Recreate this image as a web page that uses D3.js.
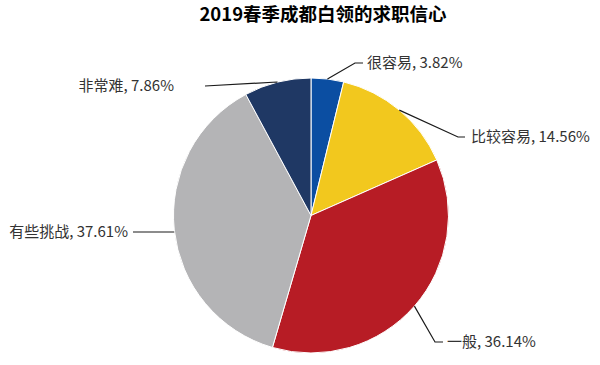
<!DOCTYPE html>
<meta charset="utf-8">
<style>
body { margin: 0; background: #fff; }
text { font-family: "Noto Sans CJK SC", "Noto Sans", sans-serif; }
.title { font-size: 18.5px; font-weight: bold; fill: #000; }
.lbl { font-size: 15px; fill: #333; }
.leader { fill: none; stroke: #1a1a1a; stroke-width: 1.2px; }
</style>
<svg width="600" height="365"></svg>
<script src="https://d3js.org/d3.v7.min.js"></script>
<script>
var categories = ["很容易", "比较容易", "一般", "有些挑战", "非常难"];
var values = [3.82, 14.56, 36.14, 37.61, 7.86];
var colors = ["#0b4ea2", "#f2c81e", "#b71c25", "#b4b4b6", "#1f3864"];

// where each label's leader bends and ends, and gap before the text
var labelLayout = [
  {bx: 355, by: 63, ex: 363, gap: 4, side: "right"},
  {bx: 458, by: 137, ex: 465, gap: 6, side: "right"},
  {bx: 435, by: 342, ex: 443, gap: 4, side: "right"},
  {bx: 175, by: 232, ex: 133, gap: 5, side: "left"},
  {bx: 277, by: 82, ex: 205, gap: 31, side: "left", ey: 86}
];

var svg = d3.select("svg"),
    cx = 311, cy = 215.5, radius = 137.5;

svg.append("text")
    .attr("class", "title")
    .attr("x", 323)
    .attr("y", 21)
    .attr("text-anchor", "middle")
    .text("2019春季成都白领的求职信心");

var data = categories.map(function(c, i) { return {name: c, value: values[i], color: colors[i]}; });

var pie = d3.pie().sort(null).value(function(d) { return d.value; });
var arc = d3.arc().innerRadius(0).outerRadius(radius);
var arcs = pie(data);

var g = svg.append("g").attr("transform", "translate(" + cx + "," + cy + ")");

g.selectAll("path.slice")
  .data(arcs)
  .enter().append("path")
    .attr("class", "slice")
    .attr("d", arc)
    .attr("fill", function(d) { return d.data.color; })
    .attr("stroke", "#fff")
    .attr("stroke-width", 1);

// leaders + labels
arcs.forEach(function(d, i) {
  var a = (d.startAngle + d.endAngle) / 2;
  var px = cx + radius * Math.sin(a), py = cy - radius * Math.cos(a);
  var L = labelLayout[i];
  var ey = L.ey !== undefined ? L.ey : L.by;
  var pts;
  if (i === 3) pts = [[px, L.by], [L.ex, L.by]];
  else pts = [[px, py], [L.bx, L.by], [L.ex, ey]];
  svg.append("path")
      .attr("class", "leader")
      .attr("d", d3.line()(pts));
  svg.append("text")
      .attr("class", "lbl")
      .attr("x", L.side === "right" ? L.ex + L.gap : L.ex - L.gap)
      .attr("y", ey)
      .attr("dy", "0.35em")
      .attr("text-anchor", L.side === "right" ? "start" : "end")
      .text(d.data.name + ", " + d3.format(".2f")(d.data.value) + "%");
});
</script>
